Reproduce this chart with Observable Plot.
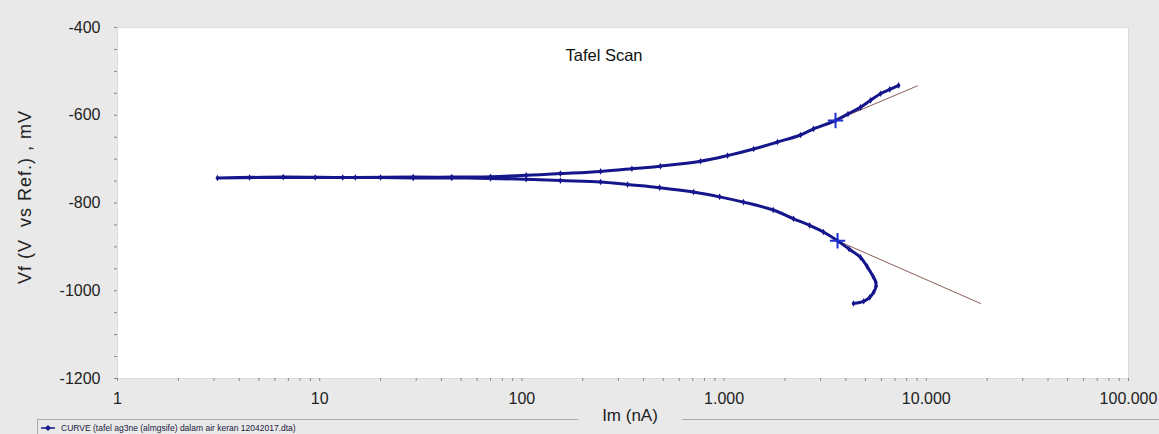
<!DOCTYPE html>
<html>
<head>
<meta charset="utf-8">
<script src="https://cdn.jsdelivr.net/npm/d3@7"></script>
<script src="https://cdn.jsdelivr.net/npm/@observablehq/plot@0.6"></script>
<style>
  html, body { margin: 0; padding: 0; background: #e9e9e9; }
  #wrap { position: relative; width: 1159px; height: 434px; overflow: hidden; font-family: "Liberation Sans", Arial, sans-serif; }
  #legend { position: absolute; left: 37px; top: 419px; right: 0; height: 15px; border-top: 1px solid #ababab; border-left: 1px solid #ababab; font-size: 8.5px; color: #1a1a40; display: flex; align-items: center; z-index: 1; }
  #legend svg { margin-left: 3px; margin-right: 6px; }
  #xlabel { position: absolute; top: 405px; left: 578px; width: 104px; text-align: center; background: #e9e9e9; font-size: 17px; color: #222; line-height: 22px; z-index: 2; }
  .ylab text { letter-spacing: 1px; }
</style>
</head>
<body>
<div id="wrap">
  <div id="chart"></div>
  <div id="legend"><svg width="14" height="8"><line x1="0" y1="4" x2="14" y2="4" stroke="#16168c" stroke-width="1.5"/><path d="M7 1 L10 4 L7 7 L4 4 Z" fill="#16168c"/></svg><span>CURVE (tafel ag3ne (almgsife) dalam air keran 12042017.dta)</span></div>
  <div id="xlabel">Im (nA)</div>
</div>
<script>
// Tafel scan, in scan order: cathodic end -> Ecorr (small currents) -> anodic end
const currentNA = [
  4365, 4900, 5250, 5500, 5640, 5620, 5480, 5100, 4728, 4150, 3640, 3100, 2650, 2205, 1750, 1247, 950, 706, 480, 333, 245, 155, 105, 70, 45, 29, 20, 13, 6.6, 3.12,
  4.5, 9.5, 15, 29, 45, 70, 105, 155, 245, 350, 484, 764, 1040, 1400, 1837, 2387, 2770, 3557, 4100, 4728, 5300, 5935, 6600, 7290
];
const potentialMV = [
  -1029, -1024, -1015, -1003, -990, -980, -969, -945, -924, -905, -886, -866, -851, -836, -816, -798, -786, -775, -765, -758, -752, -749, -746, -744, -743, -743, -742, -742, -741, -743,
  -742, -742, -742, -741, -741, -740, -737, -733, -728, -722, -716, -705, -692, -677, -661, -645, -631, -612, -597, -582, -566, -551, -541, -532
];
// Tafel fit lines
const anodicFitI = [3557, 9040];
const anodicFitE = [-612, -533];
const cathodicFitI = [3640, 18540];
const cathodicFitE = [-886, -1029];
// Tafel fit markers
const markerI = [3557, 3640];
const markerE = [-612, -886];

const yMajor = [-1200, -1000, -800, -600, -400];
const yTicks = d3.range(-1200, -399, 50);
const xMajor = [1, 10, 100, 1000, 10000, 100000];
const xTicks = xMajor.flatMap((d, i) => i < xMajor.length - 1 ? [1,2,3,4,5,6,7,8,9].map(k => k * d) : [d]);

const fmt = d3.formatLocale({decimal: ",", thousands: ".", grouping: [3], currency: ["", ""]}).format(",");

const curve = currentNA.map((c, i) => ({I: c, E: potentialMV[i]}));
const anodic = anodicFitI.map((c, i) => ({I: c, E: anodicFitE[i]}));
const cathodic = cathodicFitI.map((c, i) => ({I: c, E: cathodicFitE[i]}));
const markers = markerI.map((c, i) => ({I: c, E: markerE[i]}));

const navy = "#16168c";

const plot = Plot.plot({
  width: 1159,
  height: 419,
  marginLeft: 117,
  marginRight: 31,
  marginTop: 27,
  marginBottom: 41,
  style: {background: "transparent", fontFamily: "'Liberation Sans', Arial, sans-serif", fontSize: "16px", color: "#222", overflow: "visible"},
  x: {type: "log", domain: [1, 100000]},
  y: {domain: [-1200, -400]},
  marks: [
    Plot.frame({fill: "white", stroke: "#dcdcdc"}),
    Plot.axisX({ticks: xTicks, tickSize: 3, tickPadding: 11, stroke: "#8a8a8a", fill: "#222", fontSize: 16,
      tickFormat: d => xMajor.includes(d) ? fmt(d) : "", label: null}),
    Plot.axisY({ticks: yTicks, tickSize: 3, tickPadding: 14, stroke: "#8a8a8a", fill: "#222", fontSize: 16,
      tickFormat: d => yMajor.includes(d) ? String(d) : "", label: null}),
    Plot.text(["Vf (V  vs Ref.) , mV"], {frameAnchor: "left", textAnchor: "middle", rotate: -90, dx: -92, dy: -6, fontSize: 18, lineAnchor: "middle", fill: "#222", className: "ylab"}),
    Plot.text(["Tafel Scan"], {frameAnchor: "top", dx: -19, dy: 28, fontSize: 16.5, lineAnchor: "middle", fill: "#111"}),
    Plot.line(anodic, {x: "I", y: "E", stroke: "#8b5e5a", strokeWidth: 1}),
    Plot.line(cathodic, {x: "I", y: "E", stroke: "#8b5e5a", strokeWidth: 1}),
    Plot.line(curve, {x: "I", y: "E", stroke: navy, strokeWidth: 3, curve: "catmull-rom", strokeLinecap: "round"}),
    Plot.dot(curve, {x: "I", y: "E", symbol: "diamond", r: 2, fill: navy}),
    Plot.dot(markers, {x: "I", y: "E", symbol: "plus", r: 5, stroke: "#2030d0", strokeWidth: 2})
  ]
});
document.getElementById("chart").appendChild(plot);
</script>
</body>
</html>
